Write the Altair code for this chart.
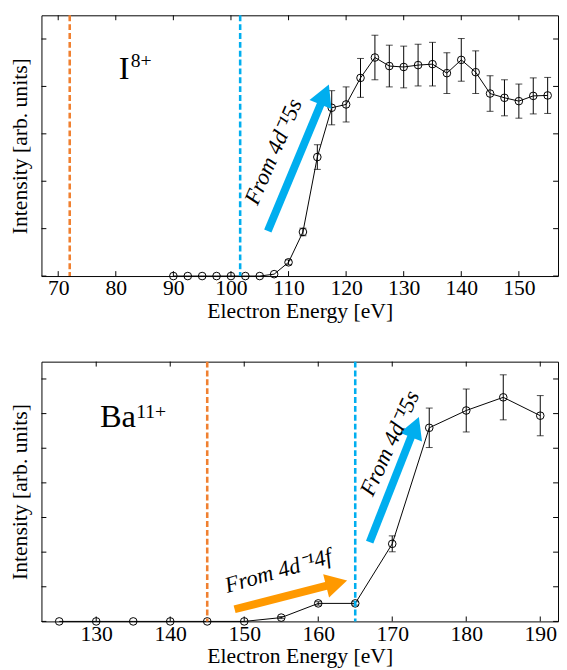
import math
import altair as alt
import pandas as pd

# ---------------- data: I^8+ panel ----------------
i_energy = [90, 92.5, 95, 97.5, 100, 102.5, 105, 107.5, 110, 112.5, 115, 117.5, 120,
            122.5, 125, 127.5, 130, 132.5, 135, 137.5, 140, 142.5, 145, 147.5, 150, 152.5, 155]
i_intensity = [0, 0, 0, 0, 0, 0, 0, 0.04, 0.29, 0.93, 2.51, 3.55, 3.62,
               4.18, 4.61, 4.43, 4.41, 4.45, 4.47, 4.28, 4.56, 4.30, 3.85, 3.76, 3.69, 3.80, 3.81]
i_error = [0, 0, 0, 0, 0, 0, 0, 0, 0.05, 0.08, 0.26, 0.36, 0.37,
           0.41, 0.47, 0.44, 0.44, 0.44, 0.46, 0.43, 0.45, 0.45, 0.375, 0.38, 0.36, 0.38, 0.38]
i_thresholds = [72, 101.6]
i_threshold_colors = ["#F08030", "#00AEEF"]
i_xticks = [70, 80, 90, 100, 110, 120, 130, 140, 150]
i_yticks = [0, 1, 2, 3, 4, 5]
i_arrow_tail = [(106.4, 0.95)]
i_arrow_tip = [(117.0, 4.04)]
i_arrow_colors = ["#00AEEF"]
i_arrow_text = ["From 4d⁻¹5s"]
i_arrow_text_pos = [(107.4, 2.62)]
i_arrow_text_angle = [293.4]
i_ion = ("I", "8+")
i_ion_pos = [(80.5, 4.15), (82.6, 4.4)]

# ---------------- data: Ba^11+ panel ----------------
b_energy = [125, 130, 135, 140, 145, 150, 155, 160, 165, 170, 175, 180, 185, 190]
b_intensity = [0, 0, 0, 0, 0, 0, 0.11, 0.52, 0.52, 2.24, 5.59, 6.09, 6.47, 5.94]
b_error = [0, 0, 0, 0, 0, 0, 0.03, 0.05, 0.05, 0.23, 0.57, 0.62, 0.65, 0.58]
b_thresholds = [145, 165]
b_threshold_colors = ["#F08030", "#00AEEF"]
b_xticks = [130, 140, 150, 160, 170, 180, 190]
b_yticks = [0, 1, 2, 3, 4, 5, 6, 7]
b_arrow_tail = [(148.7, 0.35), (166.95, 2.29)]
b_arrow_tip = [(163.9, 1.18), (173.6, 5.9)]
b_arrow_colors = ["#FF9900", "#00AEEF"]
b_arrow_text = ["From 4d⁻¹4f", "From 4d⁻¹5s"]
b_arrow_text_pos = [(154.6, 1.45), (169.7, 5.14)]
b_arrow_text_angle = [344.0, 294.6]
b_ion = ("Ba", "11+")
b_ion_pos = [(130.5, 5.6), (135.4, 5.87)]

FONT = "Liberation Serif"
HEAD_LEN = 22.0
HEAD_PATH = "M0,0L-0.55,1L0.55,1Z"


def panel(energy, intensity, error, thr, thr_col, xticks, yticks, tails, tips, acol,
          atext, atext_pos, atext_ang, ion, ion_pos, xdom, ydom, W, H):
    sx = W / (xdom[1] - xdom[0])
    sy = H / (ydom[1] - ydom[0])
    xs = alt.Scale(domain=xdom, nice=False, zero=False)
    ys = alt.Scale(domain=ydom, nice=False, zero=False)
    AXX = alt.Axis(values=xticks, title="Electron Energy [eV]", ticks=False, domain=False,
                   grid=False, labelPadding=2, titlePadding=2, labelFlush=False)
    AXY = alt.Axis(title="Intensity [arb. units]", labels=False, ticks=False, domain=False,
                   grid=False, titlePadding=10)

    def X(f):
        return alt.X(f, type="quantitative", scale=xs, axis=AXX)

    def Y(f):
        return alt.Y(f, type="quantitative", scale=ys, axis=AXY)

    df = pd.DataFrame({"e": energy, "v": intensity, "err": error})
    df["lo"] = df["v"] - df["err"]
    df["hi"] = df["v"] + df["err"]
    dfe = df[df["err"] > 0]

    layers = []
    # inner ticks
    xt = pd.DataFrame({"t": xticks})
    yt = pd.DataFrame({"t": yticks})
    layers.append(alt.Chart(xt).mark_rule(color="black", strokeWidth=1).encode(
        x=X("t"), y=alt.value(0), y2=alt.value(5)))
    layers.append(alt.Chart(xt).mark_rule(color="black", strokeWidth=1).encode(
        x=X("t"), y=alt.value(H), y2=alt.value(H - 5)))
    layers.append(alt.Chart(yt).mark_rule(color="black", strokeWidth=1).encode(
        y=Y("t"), x=alt.value(0), x2=alt.value(5)))
    layers.append(alt.Chart(yt).mark_rule(color="black", strokeWidth=1).encode(
        y=Y("t"), x=alt.value(W), x2=alt.value(W - 5)))

    # error bars
    layers.append(alt.Chart(dfe).mark_rule(color="black", strokeWidth=1).encode(
        x=X("e"), y=Y("lo"), y2="hi"))
    layers.append(alt.Chart(dfe).mark_tick(color="black", orient="horizontal", size=7, thickness=1).encode(
        x=X("e"), y=Y("lo")))
    layers.append(alt.Chart(dfe).mark_tick(color="black", orient="horizontal", size=7, thickness=1).encode(
        x=X("e"), y=Y("hi")))
    # line and points
    layers.append(alt.Chart(df).mark_line(color="black", strokeWidth=1).encode(x=X("e"), y=Y("v")))
    layers.append(alt.Chart(df).mark_point(shape="circle", filled=False, color="black",
                                           size=60, strokeWidth=1, opacity=1).encode(x=X("e"), y=Y("v")))

    # threshold dashed lines
    tdf = pd.DataFrame({"x": thr, "c": thr_col})
    layers.append(alt.Chart(tdf).mark_rule(strokeDash=[6, 3], strokeWidth=2.6).encode(
        x=X("x"), color=alt.Color("c:N", scale=None)))

    # arrows
    rows = []
    for (tx, ty), (hx, hy), c in zip(tails, tips, acol):
        dxp = (hx - tx) * sx
        dyp = (hy - ty) * sy
        L = math.hypot(dxp, dyp)
        ux, uy = dxp / L, dyp / L
        bx = hx - ux * (HEAD_LEN - 2) / sx
        by = hy - uy * (HEAD_LEN - 2) / sy
        ang = math.degrees(math.atan2(ux, uy)) % 360
        rows.append({"tx": tx, "ty": ty, "bx": bx, "by": by, "hx": hx, "hy": hy, "c": c, "a": ang})
    adf = pd.DataFrame(rows)
    layers.append(alt.Chart(adf).mark_rule(strokeWidth=8, strokeCap="butt").encode(
        x=X("tx"), y=Y("ty"), x2="bx", y2="by", color=alt.Color("c:N", scale=None)))
    layers.append(alt.Chart(adf).mark_point(shape=HEAD_PATH, filled=True, opacity=1,
                                            size=(2 * HEAD_LEN) ** 2, strokeWidth=0).encode(
        x=X("hx"), y=Y("hy"), color=alt.Color("c:N", scale=None), angle=alt.Angle("a:Q", scale=None)))

    # arrow labels
    txt = pd.DataFrame({"x": [p[0] for p in atext_pos], "y": [p[1] for p in atext_pos],
                        "t": atext, "a": atext_ang})
    layers.append(alt.Chart(txt).mark_text(font=FONT, fontSize=23, fontStyle="italic", color="black",
                                           align="center", baseline="middle").encode(
        x=X("x"), y=Y("y"), text="t:N", angle=alt.Angle("a:Q", scale=None)))

    # ion label
    ion_main = pd.DataFrame({"x": [ion_pos[0][0]], "y": [ion_pos[0][1]], "t": [ion[0]]})
    ion_sup = pd.DataFrame({"x": [ion_pos[1][0]], "y": [ion_pos[1][1]], "t": [ion[1]]})
    layers.append(alt.Chart(ion_main).mark_text(font=FONT, fontSize=33, color="black", align="left",
                                                baseline="alphabetic").encode(
        x=X("x"), y=Y("y"), text="t:N"))
    layers.append(alt.Chart(ion_sup).mark_text(font=FONT, fontSize=20, color="black", align="left",
                                               baseline="alphabetic").encode(
        x=X("x"), y=Y("y"), text="t:N"))

    return alt.layer(*layers).properties(width=W, height=H)


top = panel(i_energy, i_intensity, i_error, i_thresholds, i_threshold_colors, i_xticks, i_yticks,
            i_arrow_tail, i_arrow_tip, i_arrow_colors, i_arrow_text, i_arrow_text_pos,
            i_arrow_text_angle, i_ion, i_ion_pos, [67.09, 156.8], [0, 5.5], 525, 265)
bottom = panel(b_energy, b_intensity, b_error, b_thresholds, b_threshold_colors, b_xticks, b_yticks,
               b_arrow_tail, b_arrow_tip, b_arrow_colors, b_arrow_text, b_arrow_text_pos,
               b_arrow_text_angle, b_ion, b_ion_pos, [122.6, 192.4], [0, 7.5], 525, 264)

chart = alt.vconcat(top, bottom, spacing=38).configure_view(
    stroke="black", strokeWidth=1
).configure_axis(
    labelFont=FONT, labelFontSize=22, labelColor="black",
    titleFont=FONT, titleFontSize=22, titleFontWeight="normal", titleColor="black"
).properties(padding={"left": 0, "top": 0, "right": 0, "bottom": 0}, background="white")

chart.save("out.html", embed_options={"renderer": "svg", "actions": False})
